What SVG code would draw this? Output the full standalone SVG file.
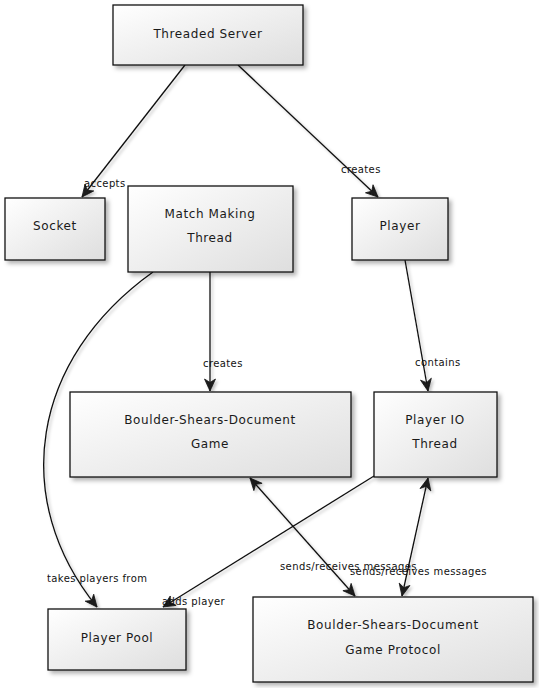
<svg xmlns="http://www.w3.org/2000/svg" width="539" height="688" viewBox="0 0 539 688">
<defs>
<linearGradient id="g" x1="0" y1="0" x2="1" y2="1">
<stop offset="0" stop-color="#ffffff"/>
<stop offset="1" stop-color="#dedede"/>
</linearGradient>
<filter id="sh" x="-10%" y="-10%" width="130%" height="140%">
<feDropShadow dx="3" dy="3" stdDeviation="2" flood-color="#000" flood-opacity="0.3"/>
</filter>
<filter id="lsh" filterUnits="userSpaceOnUse" x="0" y="0" width="539" height="688">
<feDropShadow dx="2" dy="2" stdDeviation="1.5" flood-color="#000" flood-opacity="0.25"/>
</filter>
<marker id="ah" markerUnits="userSpaceOnUse" markerWidth="16" markerHeight="14" refX="13" refY="6" orient="auto-start-reverse" viewBox="0 0 16 12">
<path d="M1,0.5 L13,6 L1,11.5 L4.5,6 Z" fill="#1a1a1a" stroke="#1a1a1a" stroke-width="0.8" stroke-linejoin="round"/>
</marker>
<style>
.n rect{fill:url(#g);stroke:#111;stroke-width:1.3;filter:url(#sh)}
.n text{font-family:"DejaVu Sans",Verdana,sans-serif;font-size:12px;letter-spacing:0.6px;fill:#1a1a1a;text-anchor:middle}
.c path{fill:none;stroke:#111;stroke-width:1.3;filter:url(#lsh)}
.c .a{marker-end:url(#ah)}
.c .b{marker-start:url(#ah);marker-end:url(#ah)}
.l{font-family:"DejaVu Sans",Verdana,sans-serif;font-size:10px;letter-spacing:0.4px;fill:#111}
</style>
</defs>
<rect width="539" height="688" fill="#fff"/>
<g id="connectors" class="c">
<path class="a" d="M185,65 L82,197"/>
<path class="a" d="M238,65 L378,197"/>
<path class="a" d="M210,272 L210,391"/>
<path class="a" d="M405,260 L428,391"/>
<path class="a" d="M153,272 C30,360 10,500 97,607"/>
<path class="a" d="M374,476 L163,607"/>
<path class="b" d="M250,478 L355,596"/>
<path class="b" d="M428,478 L402,596"/>
</g>
<g id="labels">
<text class="l" x="84" y="187">accepts</text>
<text class="l" x="341" y="173">creates</text>
<text class="l" x="203" y="367">creates</text>
<text class="l" x="415" y="366">contains</text>
<text class="l" x="47" y="582">takes players from</text>
<text class="l" x="162" y="605">adds player</text>
<text class="l" x="280" y="570">sends/receives messages</text>
<text class="l" x="350" y="575">sends/receives messages</text>
</g>
<g id="threaded-server" class="n"><rect x="113" y="5" width="190" height="60"/><text x="208" y="38">Threaded Server</text></g>
<g id="socket" class="n"><rect x="5" y="198" width="100" height="62"/><text x="55" y="230">Socket</text></g>
<g id="match-making" class="n"><rect x="128" y="186" width="165" height="86"/><text x="210" y="218">Match Making</text><text x="210" y="242">Thread</text></g>
<g id="player" class="n"><rect x="352" y="198" width="96" height="62"/><text x="400" y="230">Player</text></g>
<g id="bsd-game" class="n"><rect x="70" y="392" width="281" height="85"/><text x="210" y="424">Boulder-Shears-Document</text><text x="210" y="448">Game</text></g>
<g id="player-io" class="n"><rect x="374" y="392" width="123" height="85"/><text x="435" y="424">Player IO</text><text x="435" y="448">Thread</text></g>
<g id="player-pool" class="n"><rect x="48" y="609" width="138" height="61"/><text x="117" y="642">Player Pool</text></g>
<g id="protocol" class="n"><rect x="253" y="597" width="280" height="85"/><text x="393" y="629">Boulder-Shears-Document</text><text x="393" y="654">Game Protocol</text></g>
</svg>
